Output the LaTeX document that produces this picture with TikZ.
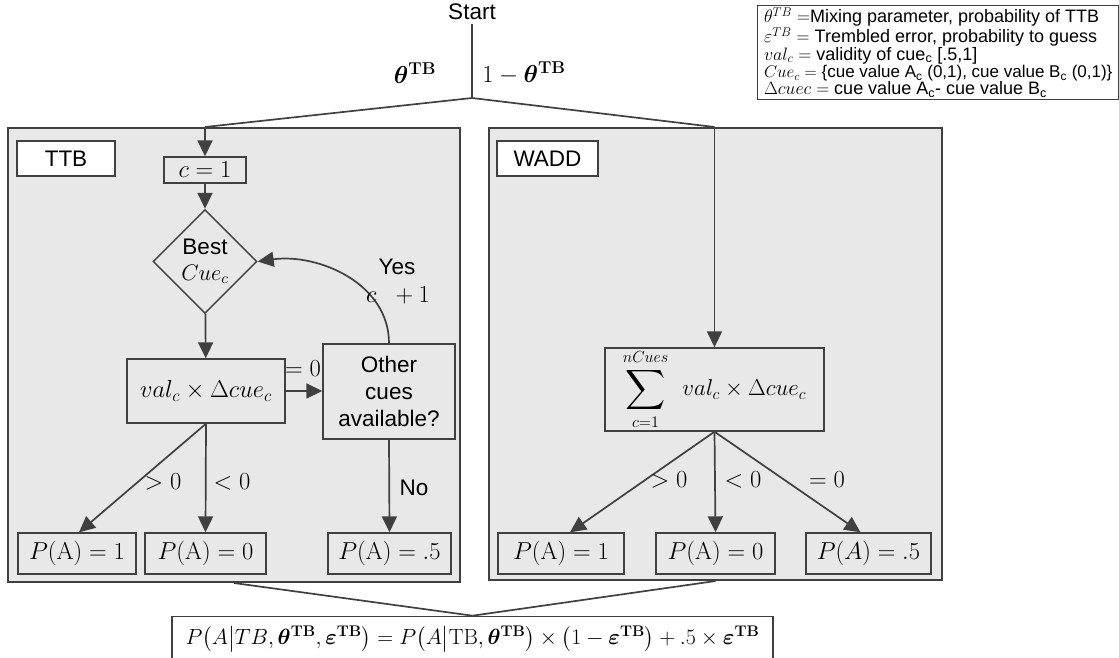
\RequirePackage{fix-cm}
\documentclass[tikz,border=0pt]{standalone}
\usepackage{amsmath,bm}
\usepackage[no-math]{fontspec}
\setmainfont{Liberation Sans}
\usetikzlibrary{shapes.geometric,arrows.meta}
\definecolor{edge}{HTML}{404040}
\definecolor{panel}{HTML}{E8E8E8}

\begin{document}
\begin{tikzpicture}[x=1pt,y=-1pt,
  txt/.style={font=\fontsize{22.5}{27}\selectfont},
  mtxt/.style={font=\fontsize{24.5}{29}\selectfont},
  small/.style={font=\fontsize{18}{17.4}\selectfont},
  panelbox/.style={draw=edge,line width=2pt,fill=panel,inner sep=0pt},
  tagbox/.style={draw=edge,line width=1.4pt,fill=white,txt,inner sep=0pt},
  stepbox/.style={draw=edge,line width=1.4pt,fill=panel,inner sep=0pt,align=center},
  decision/.style={diamond,draw=edge,line width=1.4pt,fill=panel,txt,inner sep=0pt,
                   minimum width=104pt,minimum height=104pt,align=center},
  link/.style={draw=edge,line width=1.7pt},
  arr/.style={link,-{Triangle[length=16pt,width=15pt]}},
  cond/.style={mtxt,inner sep=0pt}]

\useasboundingbox (0,0) rectangle (1119,657);

% --- top split ---------------------------------------------------------
\node[txt] (start) at (472,12) {Start};
\coordinate (split) at (472,98);
\node[mtxt] (ptheta) at (415,73) {$\bm{\theta}^{\mathbf{TB}}$};
\node[mtxt] (qtheta) at (524,73) {$1-\bm{\theta}^{\mathbf{TB}}$};

% --- two strategy panels -----------------------------------------------
\node[panelbox,minimum width=452pt,minimum height=454pt] (ttb)  at (234,355) {};
\node[panelbox,minimum width=453pt,minimum height=452pt] (wadd) at (715.5,354) {};

\node[tagbox,minimum width=98pt,minimum height=35pt]  (ttbtag)  at (66,158.5)  {TTB};
\node[tagbox,minimum width=101pt,minimum height=35pt] (waddtag) at (547.5,158.5) {WADD};

% --- TTB flow ----------------------------------------------------------
\node[stepbox,mtxt,minimum width=82pt,minimum height=26pt] (c1) at (205,170) {$c=1$};
\node[decision] (best) at (205,261.5) {Best\\[-1pt]$Cue_c$};
\node[stepbox,mtxt,minimum width=158pt,minimum height=64pt] (val) at (206,391) {$val_c\times\Delta cue_c$};
\node[stepbox,txt,minimum width=132pt,minimum height=95pt] (other) at (389,391.5)
     {Other\\cues\\available?};

\node[stepbox,mtxt,minimum width=118pt,minimum height=41pt] (t1) at (77,553.5)  {$P(\mathrm{A})=1$};
\node[stepbox,mtxt,minimum width=121pt,minimum height=41pt] (t0) at (205.5,553.5) {$P(\mathrm{A})=0$};
\node[stepbox,mtxt,minimum width=123pt,minimum height=41pt] (th) at (389.5,553.5) {$P(\mathrm{A})=.5$};

% --- WADD flow ---------------------------------------------------------
\node[stepbox,minimum width=219pt,minimum height=83pt,font=\fontsize{23}{27}\selectfont] (sum) at (714.5,389.5)
     {$\mathop{\vcenter{\hbox{\scalebox{1.12}{$\displaystyle\sum$}}}}\limits_{c=1}^{nCues}\;\, val_c\times\Delta cue_c$};
\node[stepbox,mtxt,minimum width=126pt,minimum height=41pt] (w1) at (561,553.5) {$P(\mathrm{A})=1$};
\node[stepbox,mtxt,minimum width=119pt,minimum height=41pt] (w0) at (715.5,553.5) {$P(\mathrm{A})=0$};
\node[stepbox,mtxt,minimum width=125pt,minimum height=41pt] (wh) at (868.5,553.5) {$P(A)=.5$};

% --- combined output ---------------------------------------------------
\node[draw=edge,line width=1.6pt,fill=white,font=\fontsize{22}{26}\selectfont,
      minimum width=601pt,minimum height=45pt,inner sep=0pt]
  (final) at (472.5,639)
  {$P\!\left(A\middle|TB,\bm{\theta}^{\mathbf{TB}},\bm{\varepsilon}^{\mathbf{TB}}\right)
    =P\!\left(A\middle|\mathrm{TB},\bm{\theta}^{\mathbf{TB}}\right)\times
    \left(1-\bm{\varepsilon}^{\mathbf{TB}}\right)+.5\times\bm{\varepsilon}^{\mathbf{TB}}$};

% --- legend ------------------------------------------------------------
\node[draw=edge,line width=1.4pt,fill=white,small,align=left,anchor=north west,
      minimum width=361pt,minimum height=88pt,inner xsep=2pt,inner ysep=2pt] (legend) at (757,5)
  {$\theta^{TB}$ $=$Mixing parameter, probability of TTB\\
   $\varepsilon^{TB}$ $=$ Trembled error, probability to guess\\
   $val_c$ $=$ validity of cue\textsubscript{c} [.5,1]\\
   {\fontsize{17}{17.4}\selectfont$Cue_c$ $=$ \{cue value A\textsubscript{c} (0,1), cue value B\textsubscript{c} (0,1)\}}\\
   $\Delta cuec$ $=$ cue value A\textsubscript{c}- cue value B\textsubscript{c}};

% --- connectors --------------------------------------------------------
\coordinate (ttbin)  at (ttb.north -| c1);
\coordinate (waddin) at (wadd.north -| sum);
\draw[link] (start.south) -- (split);
\draw[link] (split) -- (ttbin);
\draw[link] (split) -- (waddin);
\draw[arr] (ttbin) -- (c1);
\draw[arr] (waddin) -- (sum);

\draw[arr] (c1) -- (best);
\draw[arr] (best) -- (val);
\draw[arr] (val.east) -- (other.west |- val.east);
\draw[arr] (other.north) to[out=90,in=8] (best.east);
\draw[arr] (val.south) -- ([xshift=2pt]t1.north);
\draw[arr] (val.south) -- (t0.north);
\draw[arr] (other.south) -- (th.north);

\draw[arr] (sum.south) -- ([xshift=9pt]w1.north);
\draw[arr] (sum.south) -- (w0.north);
\draw[arr] (sum.south) -- ([xshift=-8pt]wh.north);

\draw[link] (ttb.south) -- (final.north);
\draw[link] (wadd.south) -- (final.north);

% --- branch labels -----------------------------------------------------
\node[cond] (eq0)  at (303,369) {$=0$};
\node[txt,inner sep=0pt] (yes) at (397,267) {Yes};
\node[cond] (cinc) at (398,295) {$c\;\;+1$};
\node[cond] (tgt)  at (163,482) {$>0$};
\node[cond] (tlt)  at (232,482) {$<0$};
\node[txt,inner sep=0pt] (no) at (414,488) {No};
\node[cond] (wgt)  at (669,480) {$>0$};
\node[cond] (wlt)  at (743,480) {$<0$};
\node[cond] (weq)  at (827,480) {$=0$};
\end{tikzpicture}
\end{document}
